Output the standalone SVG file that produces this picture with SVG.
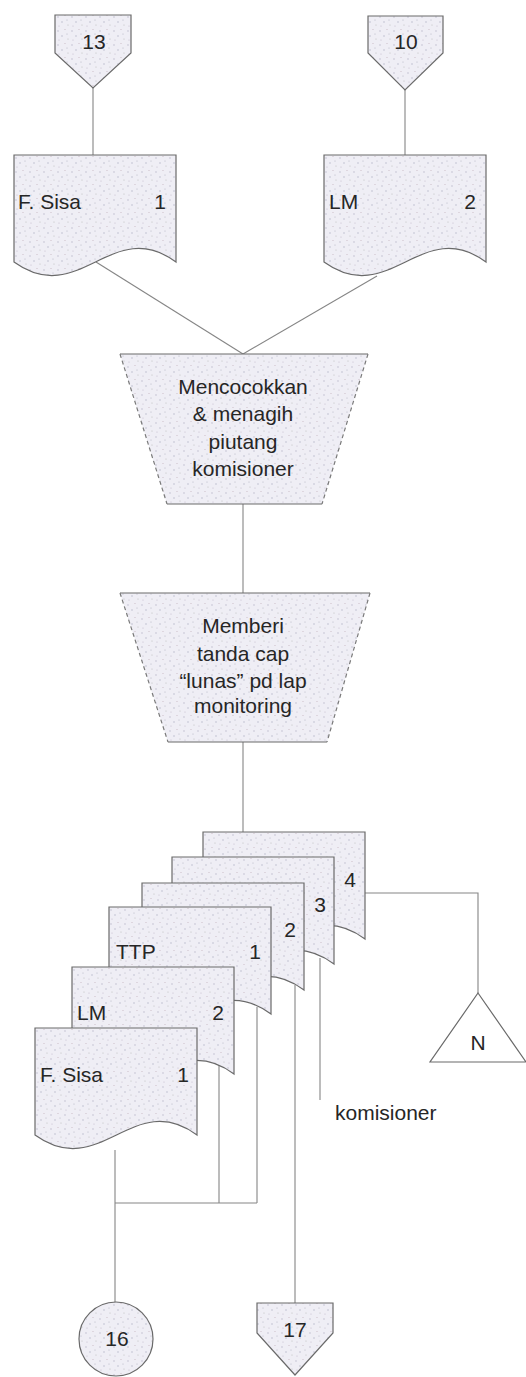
<svg xmlns="http://www.w3.org/2000/svg" xmlns:xlink="http://www.w3.org/1999/xlink" width="526" height="1377" viewBox="0 0 526 1377">
<style>
.fill{fill:url(#speck)}
.shape{fill:url(#speck);stroke:#6a6a6a;stroke-width:1.2}
.dash{fill:none;stroke:#7a7a7a;stroke-width:1.2;stroke-dasharray:4 3}
.solid{fill:none;stroke:#6a6a6a;stroke-width:1.2}
.conn{fill:none;stroke:#858585;stroke-width:1.1}
.lbl{font-family:"Liberation Sans",Arial,sans-serif;font-size:21px;fill:#262626}
.mid{text-anchor:middle}
</style>
<defs>
<pattern id="speck" width="14" height="14" patternUnits="userSpaceOnUse">
<rect width="14" height="14" fill="#efeef5"/>
<circle cx="2" cy="3" r="0.7" fill="#b9b7c9"/>
<circle cx="9" cy="1.5" r="0.6" fill="#c9b9c4"/>
<circle cx="6" cy="8" r="0.7" fill="#b3b6c8"/>
<circle cx="12" cy="11" r="0.6" fill="#bdbdbd"/>
<circle cx="3" cy="12" r="0.6" fill="#c4bccd"/>
<circle cx="11" cy="6" r="0.5" fill="#aaaabb"/>
</pattern>
<path id="docshape" d="M0,0 H162 V107 C98,60 65,154 0,107 Z"/>
</defs>

<g id="connectors">
<line class="conn" x1="93" y1="88" x2="93" y2="155"/>
<line class="conn" x1="405" y1="90" x2="405" y2="155"/>
<line class="conn" x1="96" y1="262" x2="243" y2="354"/>
<line class="conn" x1="377" y1="276" x2="243" y2="354"/>
<line class="conn" x1="243" y1="504" x2="243" y2="593"/>
<line class="conn" x1="243" y1="742" x2="243" y2="832"/>
<polyline class="conn" points="365,893 478,893 478,993"/>
<line class="conn" x1="320" y1="958" x2="320" y2="1100"/>
<line class="conn" x1="295" y1="985" x2="295" y2="1303"/>
<line class="conn" x1="257" y1="1007" x2="257" y2="1203"/>
<line class="conn" x1="219" y1="1063" x2="219" y2="1203"/>
<line class="conn" x1="115" y1="1150" x2="115" y2="1303"/>
<line class="conn" x1="115" y1="1203" x2="257" y2="1203"/>
</g>

<g id="off13">
<polygon class="shape" points="55,15 131,15 131,53 93,88 55,53"/>
<text class="lbl mid" x="94" y="49">13</text>
</g>
<g id="off10">
<polygon class="shape" points="368,16 443,16 443,53 405,90 368,53"/>
<text class="lbl mid" x="406" y="49">10</text>
</g>

<g id="doc-fsisa-in" transform="translate(14,155)">
<use href="#docshape" class="shape"/>
<text class="lbl" x="4" y="54">F. Sisa</text>
<text class="lbl mid" x="146" y="54">1</text>
</g>
<g id="doc-lm-in" transform="translate(324,155)">
<use href="#docshape" class="shape"/>
<text class="lbl" x="5" y="54">LM</text>
<text class="lbl mid" x="146" y="54">2</text>
</g>

<g id="proc-mencocokkan">
<polygon class="fill" points="120,354 368,354 322,504 167,504"/>
<line class="solid" x1="120" y1="354" x2="368" y2="354"/>
<line class="solid" x1="167" y1="504" x2="322" y2="504"/>
<line class="dash" x1="120" y1="354" x2="167" y2="504"/>
<line class="dash" x1="368" y1="354" x2="322" y2="504"/>
<text class="lbl mid" x="243" y="394">Mencocokkan</text>
<text class="lbl mid" x="243" y="421">&amp; menagih</text>
<text class="lbl mid" x="243" y="449">piutang</text>
<text class="lbl mid" x="243" y="476">komisioner</text>
</g>

<g id="proc-memberi">
<polygon class="fill" points="120,593 370,593 327,742 168,742"/>
<line class="solid" x1="120" y1="593" x2="370" y2="593"/>
<line class="solid" x1="168" y1="742" x2="327" y2="742"/>
<line class="dash" x1="120" y1="593" x2="168" y2="742"/>
<line class="dash" x1="370" y1="593" x2="327" y2="742"/>
<text class="lbl mid" x="243" y="633">Memberi</text>
<text class="lbl mid" x="243" y="661">tanda cap</text>
<text class="lbl mid" x="243" y="688">“lunas” pd lap</text>
<text class="lbl mid" x="243" y="713">monitoring</text>
</g>

<g id="doc-4" transform="translate(203,832)">
<use href="#docshape" class="shape"/>
<text class="lbl mid" x="147" y="55">4</text>
</g>
<g id="doc-3" transform="translate(172,857)">
<use href="#docshape" class="shape"/>
<text class="lbl mid" x="148" y="55">3</text>
</g>
<g id="doc-2" transform="translate(142,883)">
<use href="#docshape" class="shape"/>
<text class="lbl mid" x="148" y="54">2</text>
</g>
<g id="doc-ttp" transform="translate(109,907)">
<use href="#docshape" class="shape"/>
<text class="lbl" x="7" y="52">TTP</text>
<text class="lbl mid" x="146" y="52">1</text>
</g>
<g id="doc-lm-out" transform="translate(72,967)">
<use href="#docshape" class="shape"/>
<text class="lbl" x="5" y="53">LM</text>
<text class="lbl mid" x="146" y="53">2</text>
</g>
<g id="doc-fsisa-out" transform="translate(35,1028)">
<use href="#docshape" class="shape"/>
<text class="lbl" x="5" y="54">F. Sisa</text>
<text class="lbl mid" x="148" y="54">1</text>
</g>

<g id="file-n">
<polygon class="shape" points="478,993 526,1062 430,1062" style="fill:#ffffff"/>
<text class="lbl mid" x="478" y="1050">N</text>
</g>

<g id="label-komisioner">
<text class="lbl" x="335" y="1120">komisioner</text>
</g>

<g id="on16">
<circle class="shape" cx="116" cy="1339" r="37"/>
<text class="lbl mid" x="117" y="1346">16</text>
</g>
<g id="off17">
<polygon class="shape" points="257,1303 333,1303 333,1333 295,1375 257,1333"/>
<text class="lbl mid" x="295" y="1337">17</text>
</g>
</svg>
